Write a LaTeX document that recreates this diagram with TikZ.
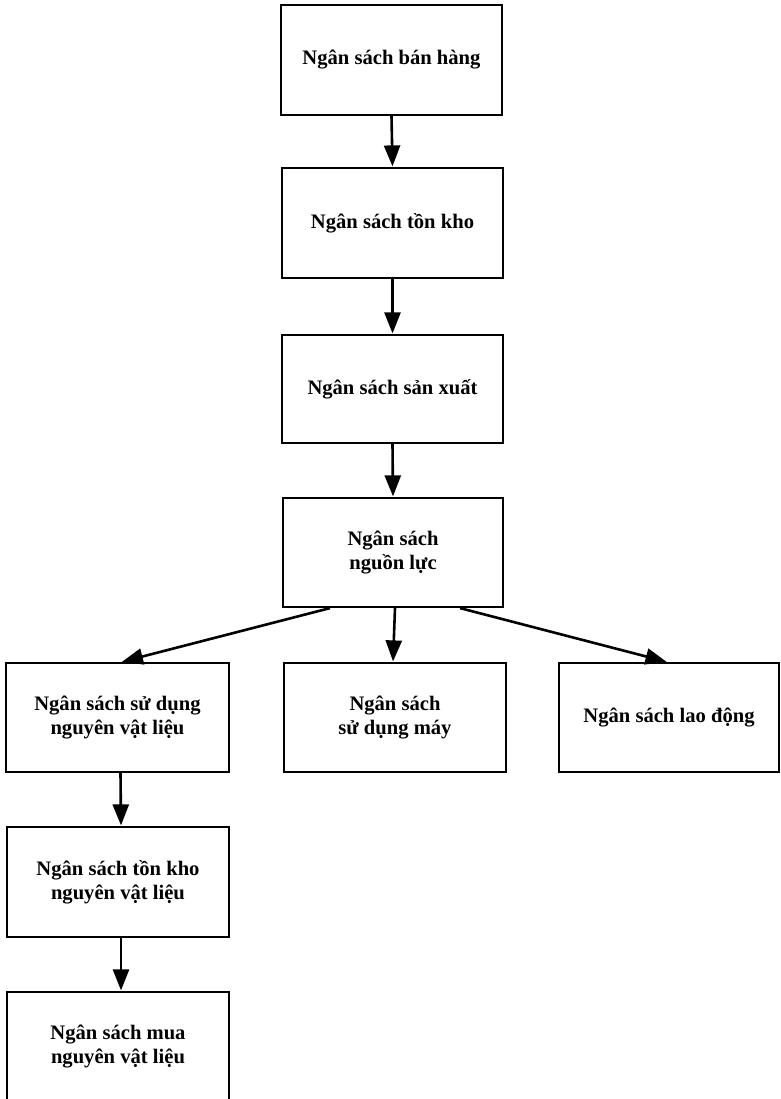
\documentclass[tikz,border=0pt]{standalone}
\usepackage{fontspec}
\setmainfont{Liberation Serif}
\usetikzlibrary{arrows.meta}
\begin{document}
\begin{tikzpicture}[x=1pt,y=-1pt,
  budget/.style={draw=black, line width=2.2pt, fill=white, align=center,
    inner sep=0pt, minimum width=221pt, minimum height=110pt,
    font=\fontsize{20.6}{24}\selectfont\bfseries},
  flow/.style={line width=2.6pt, -{Triangle[length=21pt,width=16pt]}, shorten >=0.5pt}]
\useasboundingbox (0,0) rectangle (780,1099);
\fill[white] (0,0) rectangle (780,1099);

% main chain
\node[budget] (ban)   at (391.5,60)  {Ngân sách bán hàng};
\node[budget] (ton)   at (392.5,223) {Ngân sách tồn kho};
\node[budget, minimum height=108pt] (sx) at (392.5,389) {Ngân sách sản xuất};
\node[budget, minimum height=109pt, minimum width=220pt] (nl) at (393,552.5) {Ngân sách\\nguồn lực};

% resource budgets
\node[budget, minimum width=223pt, minimum height=109pt] (nvl) at (117.5,717.5) {Ngân sách sử dụng\\nguyên vật liệu};
\node[budget, minimum width=222pt, minimum height=109pt] (may) at (395,717.5) {Ngân sách\\sử dụng máy};
\node[budget, minimum width=220pt, minimum height=109pt] (ld)  at (669,717.5) {Ngân sách lao động};

% material column
\node[budget, minimum width=222pt] (tkn) at (118,882) {Ngân sách tồn kho\\nguyên vật liệu};
\node[budget, minimum width=222pt, minimum height=108pt] (mua) at (118,1046) {Ngân sách mua\\nguyên vật liệu};

% connectors
\draw[flow] (ban.south) -- (ton.north);
\draw[flow] (ton.south) -- (sx.north);
\draw[flow] (sx.south) -- (nl.north);
\draw[flow] ([xshift=-63pt]nl.south) -- ([xshift=4pt]nvl.north);
\draw[flow] ([xshift=2pt]nl.south) -- (nl.south |- may.north);
\draw[flow] ([xshift=67pt]nl.south) -- ([xshift=-2pt]ld.north);
\draw[flow] ([xshift=3pt]nvl.south) -- ([xshift=3pt]tkn.north);
\draw[flow] ([xshift=3pt]tkn.south) -- ([xshift=3pt]mua.north);
\end{tikzpicture}
\end{document}
